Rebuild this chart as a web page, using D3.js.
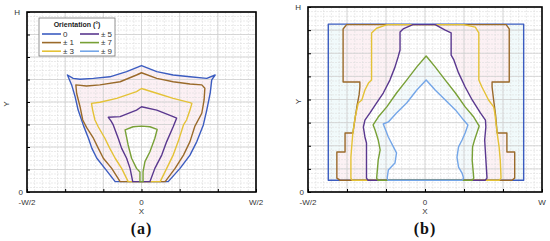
<!DOCTYPE html>
<html>
<head>
<meta charset="utf-8">
<script src="https://cdn.jsdelivr.net/npm/d3@7"></script>
<style>
  body { margin: 0; background: #fff; }
  text { font-family: "Liberation Sans", Arial, sans-serif; }
</style>
</head>
<body>
<svg></svg>
<script>
var width = 550;
var height = 241;

// orientations shown in the legend
var orientations = ["0", "\u00b1 1", "\u00b1 3", "\u00b1 5", "\u00b1 7", "\u00b1 9"];

// axis ticks (grid units: W = 6, H = 8)
var xTicks = [-3, 0, 3];
var xTickLabelsA = ["-W/2", "0", "W/2"];
var xTickLabelsB = ["-W/2", "0", "W"];
var yTicks = [0, 8];
var yTickLabels = ["0", "H"];

// panel (a) contours, [x, y] in grid units
var a0 = [[-0.69,0.46],[-0.96,1.05],[-1.17,1.5],[-1.3,1.94],[-1.39,2.39],[-1.52,2.95],[-1.66,3.64],[-1.74,4.24],[-1.83,4.76],[-1.94,5.2],[-1.79,5.05],[-1.61,5.01],[-1.26,5.05],[-0.83,5.12],[-0.39,5.35],[0,5.62],[0.4,5.35],[0.83,5.2],[1.27,5.12],[1.71,5.05],[1.93,5.2],[1.84,4.98],[1.8,4.39],[1.71,3.64],[1.62,2.98],[1.45,2.24],[1.27,1.64],[1.01,1.05],[0.7,0.46]];
var a1 = [[-0.56,0.46],[-0.78,1.05],[-1.0,1.5],[-1.13,1.94],[-1.26,2.39],[-1.44,2.87],[-1.54,3.2],[-1.61,3.79],[-1.7,4.39],[-1.72,4.76],[-1.44,4.71],[-1.09,4.76],[-0.56,4.9],[-0.13,5.2],[0,5.3],[0.4,5.05],[0.83,4.9],[1.27,4.8],[1.58,4.76],[1.66,4.61],[1.64,4.09],[1.58,3.5],[1.4,2.93],[1.27,2.24],[1.1,1.64],[0.88,1.05],[0.62,0.46]];
var a3 = [[-0.35,0.46],[-0.52,1.05],[-0.69,1.5],[-0.83,1.94],[-0.96,2.39],[-1.13,2.89],[-1.22,3.2],[-1.28,3.64],[-1.31,3.94],[-1.09,3.99],[-0.65,4.16],[-0.13,4.46],[0,4.6],[0.4,4.39],[0.83,4.16],[1.27,3.97],[1.32,3.94],[1.27,3.64],[1.18,3.2],[1.1,2.98],[0.96,2.24],[0.83,1.64],[0.66,1.05],[0.49,0.46]];
var a5 = [[-0.23,0.46],[-0.3,1.05],[-0.39,1.5],[-0.52,1.94],[-0.61,2.39],[-0.74,2.98],[-0.8,3.16],[-0.87,3.32],[-0.56,3.35],[-0.13,3.64],[0,3.79],[0.4,3.64],[0.83,3.35],[0.92,3.28],[0.83,2.9],[0.66,2.24],[0.53,1.64],[0.35,1.05],[0.22,0.46]];
var a7 = [[-0.04,0.46],[-0.04,0.89],[-0.13,1.05],[-0.26,1.5],[-0.35,2.09],[-0.43,2.76],[-0.22,2.9],[0,2.93],[0.22,2.9],[0.41,2.78],[0.35,2.39],[0.22,1.79],[0.09,1.35],[0.04,0.9],[0.04,0.46]];

// panel (b) contours
var b0 = [[-2.48,0.51],[-2.48,7.26],[2.53,7.26],[2.53,0.51]];
var b1 = [[-2.18,0.51],[-2.26,0.6],[-2.26,1.73],[-2.05,1.73],[-2.05,2.55],[-1.85,2.55],[-1.8,3.11],[-1.74,3.76],[-1.69,4.2],[-1.67,4.54],[-1.67,4.76],[-2.1,4.76],[-2.1,7.05],[-2.01,7.24],[2.08,7.24],[2.16,7.05],[2.16,4.76],[1.72,4.76],[1.72,4.54],[1.76,3.98],[1.81,3.33],[1.85,2.55],[2.1,2.55],[2.1,1.73],[2.3,1.73],[2.3,0.6],[2.23,0.51]];
var b3 = [[-1.87,0.51],[-1.9,0.6],[-1.9,1.51],[-1.88,1.95],[-1.85,2.55],[-1.79,3.24],[-1.71,3.85],[-1.62,3.98],[-1.54,4.41],[-1.45,4.71],[-1.37,4.84],[-1.37,6.88],[-1.24,7.08],[-0.97,7.24],[0.99,7.24],[1.29,7.13],[1.38,6.88],[1.38,4.84],[1.46,4.54],[1.63,3.98],[1.76,3.68],[1.79,3.42],[1.85,2.55],[1.9,1.95],[1.93,1.38],[1.95,0.6],[1.9,0.51]];
var b5 = [[-1.46,0.51],[-1.5,0.6],[-1.5,2.12],[-1.54,2.38],[-1.58,2.81],[-1.54,3.11],[-1.41,3.42],[-1.24,3.85],[-1.07,4.28],[-0.9,4.84],[-0.77,5.4],[-0.69,5.84],[-0.64,6.14],[-0.64,6.92],[-0.56,7.05],[-0.31,7.24],[0.26,7.24],[0.52,7.0],[0.67,6.88],[0.67,5.92],[0.74,5.71],[0.86,5.15],[1.03,4.54],[1.21,3.98],[1.42,3.42],[1.55,3.11],[1.56,2.81],[1.53,2.25],[1.55,1.69],[1.59,0.6],[1.54,0.51]];
var b7 = [[-1.21,0.51],[-1.24,0.6],[-1.2,1.38],[-1.15,1.82],[-1.2,2.25],[-1.28,2.68],[-1.33,2.9],[-1.2,3.24],[-0.98,3.68],[-0.73,4.28],[-0.47,4.84],[-0.21,5.41],[0.03,5.88],[0.26,5.41],[0.52,4.84],[0.78,4.28],[1.03,3.68],[1.25,3.24],[1.39,2.85],[1.33,2.55],[1.27,2.25],[1.22,1.95],[1.21,1.38],[1.25,0.6],[1.21,0.51]];
var b9 = [[-0.95,0.51],[-0.97,0.6],[-0.94,0.95],[-0.77,1.25],[-0.73,1.69],[-0.81,1.95],[-0.94,2.38],[-1.03,2.77],[-1.07,2.94],[-0.94,3.03],[-0.73,3.42],[-0.47,3.85],[-0.21,4.41],[0.03,4.84],[0.26,4.41],[0.52,3.98],[0.78,3.55],[0.99,3.11],[1.1,2.9],[1.03,2.55],[0.95,2.25],[0.86,1.95],[0.82,1.51],[0.86,1.08],[0.95,0.82],[0.99,0.6],[0.95,0.51]];

var colors = ["#3b5cc0", "#9a6a2a", "#e4c236", "#5a388f", "#78a036", "#74a6e8"];
// faint tints seen inside some of the regions
var tintsA = ["#fcf0f4", null, null, null, "#ffffff"];
var tintsB = ["#f1fafb", "#fcf1f4", null, "#ffffff", "#f3fafc", "#ffffff"];

var svg = d3.select("svg")
    .attr("width", width)
    .attr("height", height);

var panels = [
  { name: "(a)", left: 27, right: 256, top: 12, bottom: 192, xLabels: xTickLabelsA, yTitle: 21,
    contours: [[a0, 0], [a1, 1], [a3, 2], [a5, 3], [a7, 4]], tints: tintsA, legend: true },
  { name: "(b)", left: 308, right: 542, top: 7, bottom: 192, xLabels: xTickLabelsB, yTitle: 10,
    contours: [[b0, 0], [b1, 1], [b3, 2], [b5, 3], [b7, 4], [b9, 5]], tints: tintsB, legend: false }
];

panels.forEach(draw_panel);

function draw_panel(p) {
  var x = d3.scaleLinear().domain([-3, 3]).range([p.left, p.right]);
  var y = d3.scaleLinear().domain([0, 8]).range([p.bottom, p.top]);
  var g = svg.append("g");

  var line = d3.line()
      .x(function(d) { return x(d[0]); })
      .y(function(d) { return y(d[1]); })
      .curve(d3.curveLinearClosed);

  // pale tints under the grid
  g.selectAll(".tint")
    .data(p.contours.filter(function(d, i) { return p.tints[i]; }))
    .enter().append("path")
      .attr("d", function(d) { return line(d[0]); })
      .style("fill", function(d) { return p.tints[p.contours.indexOf(d)]; })
      .style("stroke", "none");

  // minor grid
  g.selectAll(".vminor")
    .data(d3.range(-3, 3.001, 0.2))
    .enter().append("line")
      .attr("x1", function(d) { return x(d); })
      .attr("x2", function(d) { return x(d); })
      .attr("y1", p.top).attr("y2", p.bottom)
      .style("stroke", "#dedede")
      .style("stroke-dasharray", "2,1")
      .style("stroke-width", 0.6);
  g.selectAll(".hminor")
    .data(d3.range(0, 8.001, 0.2))
    .enter().append("line")
      .attr("y1", function(d) { return y(d); })
      .attr("y2", function(d) { return y(d); })
      .attr("x1", p.left).attr("x2", p.right)
      .style("stroke", "#dedede")
      .style("stroke-dasharray", "2,1")
      .style("stroke-width", 0.6);

  // major grid
  g.selectAll(".vmajor")
    .data(d3.range(-3, 4))
    .enter().append("line")
      .attr("x1", function(d) { return x(d); })
      .attr("x2", function(d) { return x(d); })
      .attr("y1", p.top).attr("y2", p.bottom)
      .style("stroke", "#cfcfcf")
      .style("stroke-width", 0.8);
  g.selectAll(".hmajor")
    .data(d3.range(0, 9))
    .enter().append("line")
      .attr("y1", function(d) { return y(d); })
      .attr("y2", function(d) { return y(d); })
      .attr("x1", p.left).attr("x2", p.right)
      .style("stroke", "#cfcfcf")
      .style("stroke-width", 0.8);

  g.selectAll(".contour")
    .data(p.contours)
    .enter().append("path")
      .attr("class", "contour")
      .attr("d", function(d) { return line(d[0]); })
      .style("fill", "none")
      .style("stroke", function(d) { return colors[d[1]]; })
      .style("stroke-width", 1.4)
      .style("stroke-linejoin", "round");

  // inward ticks
  g.append("g")
      .attr("transform", "translate(0," + p.bottom + ")")
      .call(d3.axisBottom(x).tickValues(d3.range(-3, 4)).tickSizeInner(-3).tickSizeOuter(0).tickFormat(""))
      .call(function(a) { a.select(".domain").remove(); });
  g.append("g")
      .attr("transform", "translate(" + p.left + ",0)")
      .call(d3.axisLeft(y).tickValues(d3.range(0, 9)).tickSizeInner(-3).tickSizeOuter(0).tickFormat(""))
      .call(function(a) { a.select(".domain").remove(); });

  // frame
  g.append("rect")
      .attr("x", p.left).attr("y", p.top)
      .attr("width", p.right - p.left).attr("height", p.bottom - p.top)
      .style("fill", "none")
      .style("stroke", "#000")
      .style("stroke-width", 1.6);

  // tick labels
  g.selectAll(".xlab")
    .data(xTicks)
    .enter().append("text")
      .attr("x", function(d) { return x(d); })
      .attr("y", p.bottom + 13)
      .attr("text-anchor", "middle")
      .style("font-size", "8px")
      .style("fill", "#333")
      .text(function(d, i) { return p.xLabels[i]; });
  g.selectAll(".ylab")
    .data(yTicks)
    .enter().append("text")
      .attr("x", function(d, i) { return p.left - (i ? 7 : 4); })
      .attr("y", function(d) { return y(d) + 3; })
      .attr("text-anchor", "end")
      .style("font-size", "8px")
      .style("fill", "#333")
      .text(function(d, i) { return yTickLabels[i]; });

  g.append("text")
      .attr("x", x(0)).attr("y", p.bottom + 22)
      .attr("text-anchor", "middle")
      .style("font-size", "8px").style("fill", "#333")
      .text("X");
  g.append("text")
      .attr("transform", "translate(" + (p.left - p.yTitle + 3) + "," + ((p.top + p.bottom) / 2 + 2) + ")rotate(-90)")
      .attr("text-anchor", "middle")
      .style("font-size", "8px").style("fill", "#333")
      .text("Y");
  g.append("text")
      .attr("x", x(0)).attr("y", p.bottom + 42)
      .attr("text-anchor", "middle")
      .style("font-family", "'Liberation Serif', 'DejaVu Serif', serif")
      .style("font-weight", "bold")
      .style("font-size", "16px")
      .style("letter-spacing", "1px")
      .style("fill", "#111")
      .text(p.name);

  if (p.legend) draw_legend(g);
}

function draw_legend(g) {
  var lx = 39, ly = 18, lw = 76, lh = 38;
  g.append("rect")
      .attr("x", lx).attr("y", ly).attr("width", lw).attr("height", lh)
      .style("fill", "#fff")
      .style("stroke", "#777")
      .style("stroke-width", 0.8);
  g.append("text")
      .attr("x", lx + lw / 2).attr("y", ly + 8.5)
      .attr("text-anchor", "middle")
      .style("font-size", "7px")
      .style("font-weight", "bold")
      .style("fill", "#222")
      .text("Orientation (\u00b0)");

  var item = g.selectAll(".leg")
    .data(orientations)
    .enter().append("g")
      .attr("transform", function(d, i) {
        return "translate(" + (lx + 3 + Math.floor(i / 3) * 38) + "," + (ly + 16 + (i % 3) * 8.6) + ")";
      });
  item.append("line")
      .attr("x1", 0).attr("x2", 19)
      .style("stroke", function(d, i) { return colors[i]; })
      .style("stroke-width", 1.6);
  item.append("text")
      .attr("x", 21).attr("y", 2.8)
      .style("font-size", "8px")
      .style("fill", "#333")
      .text(function(d) { return d; });
}
</script>
</body>
</html>
